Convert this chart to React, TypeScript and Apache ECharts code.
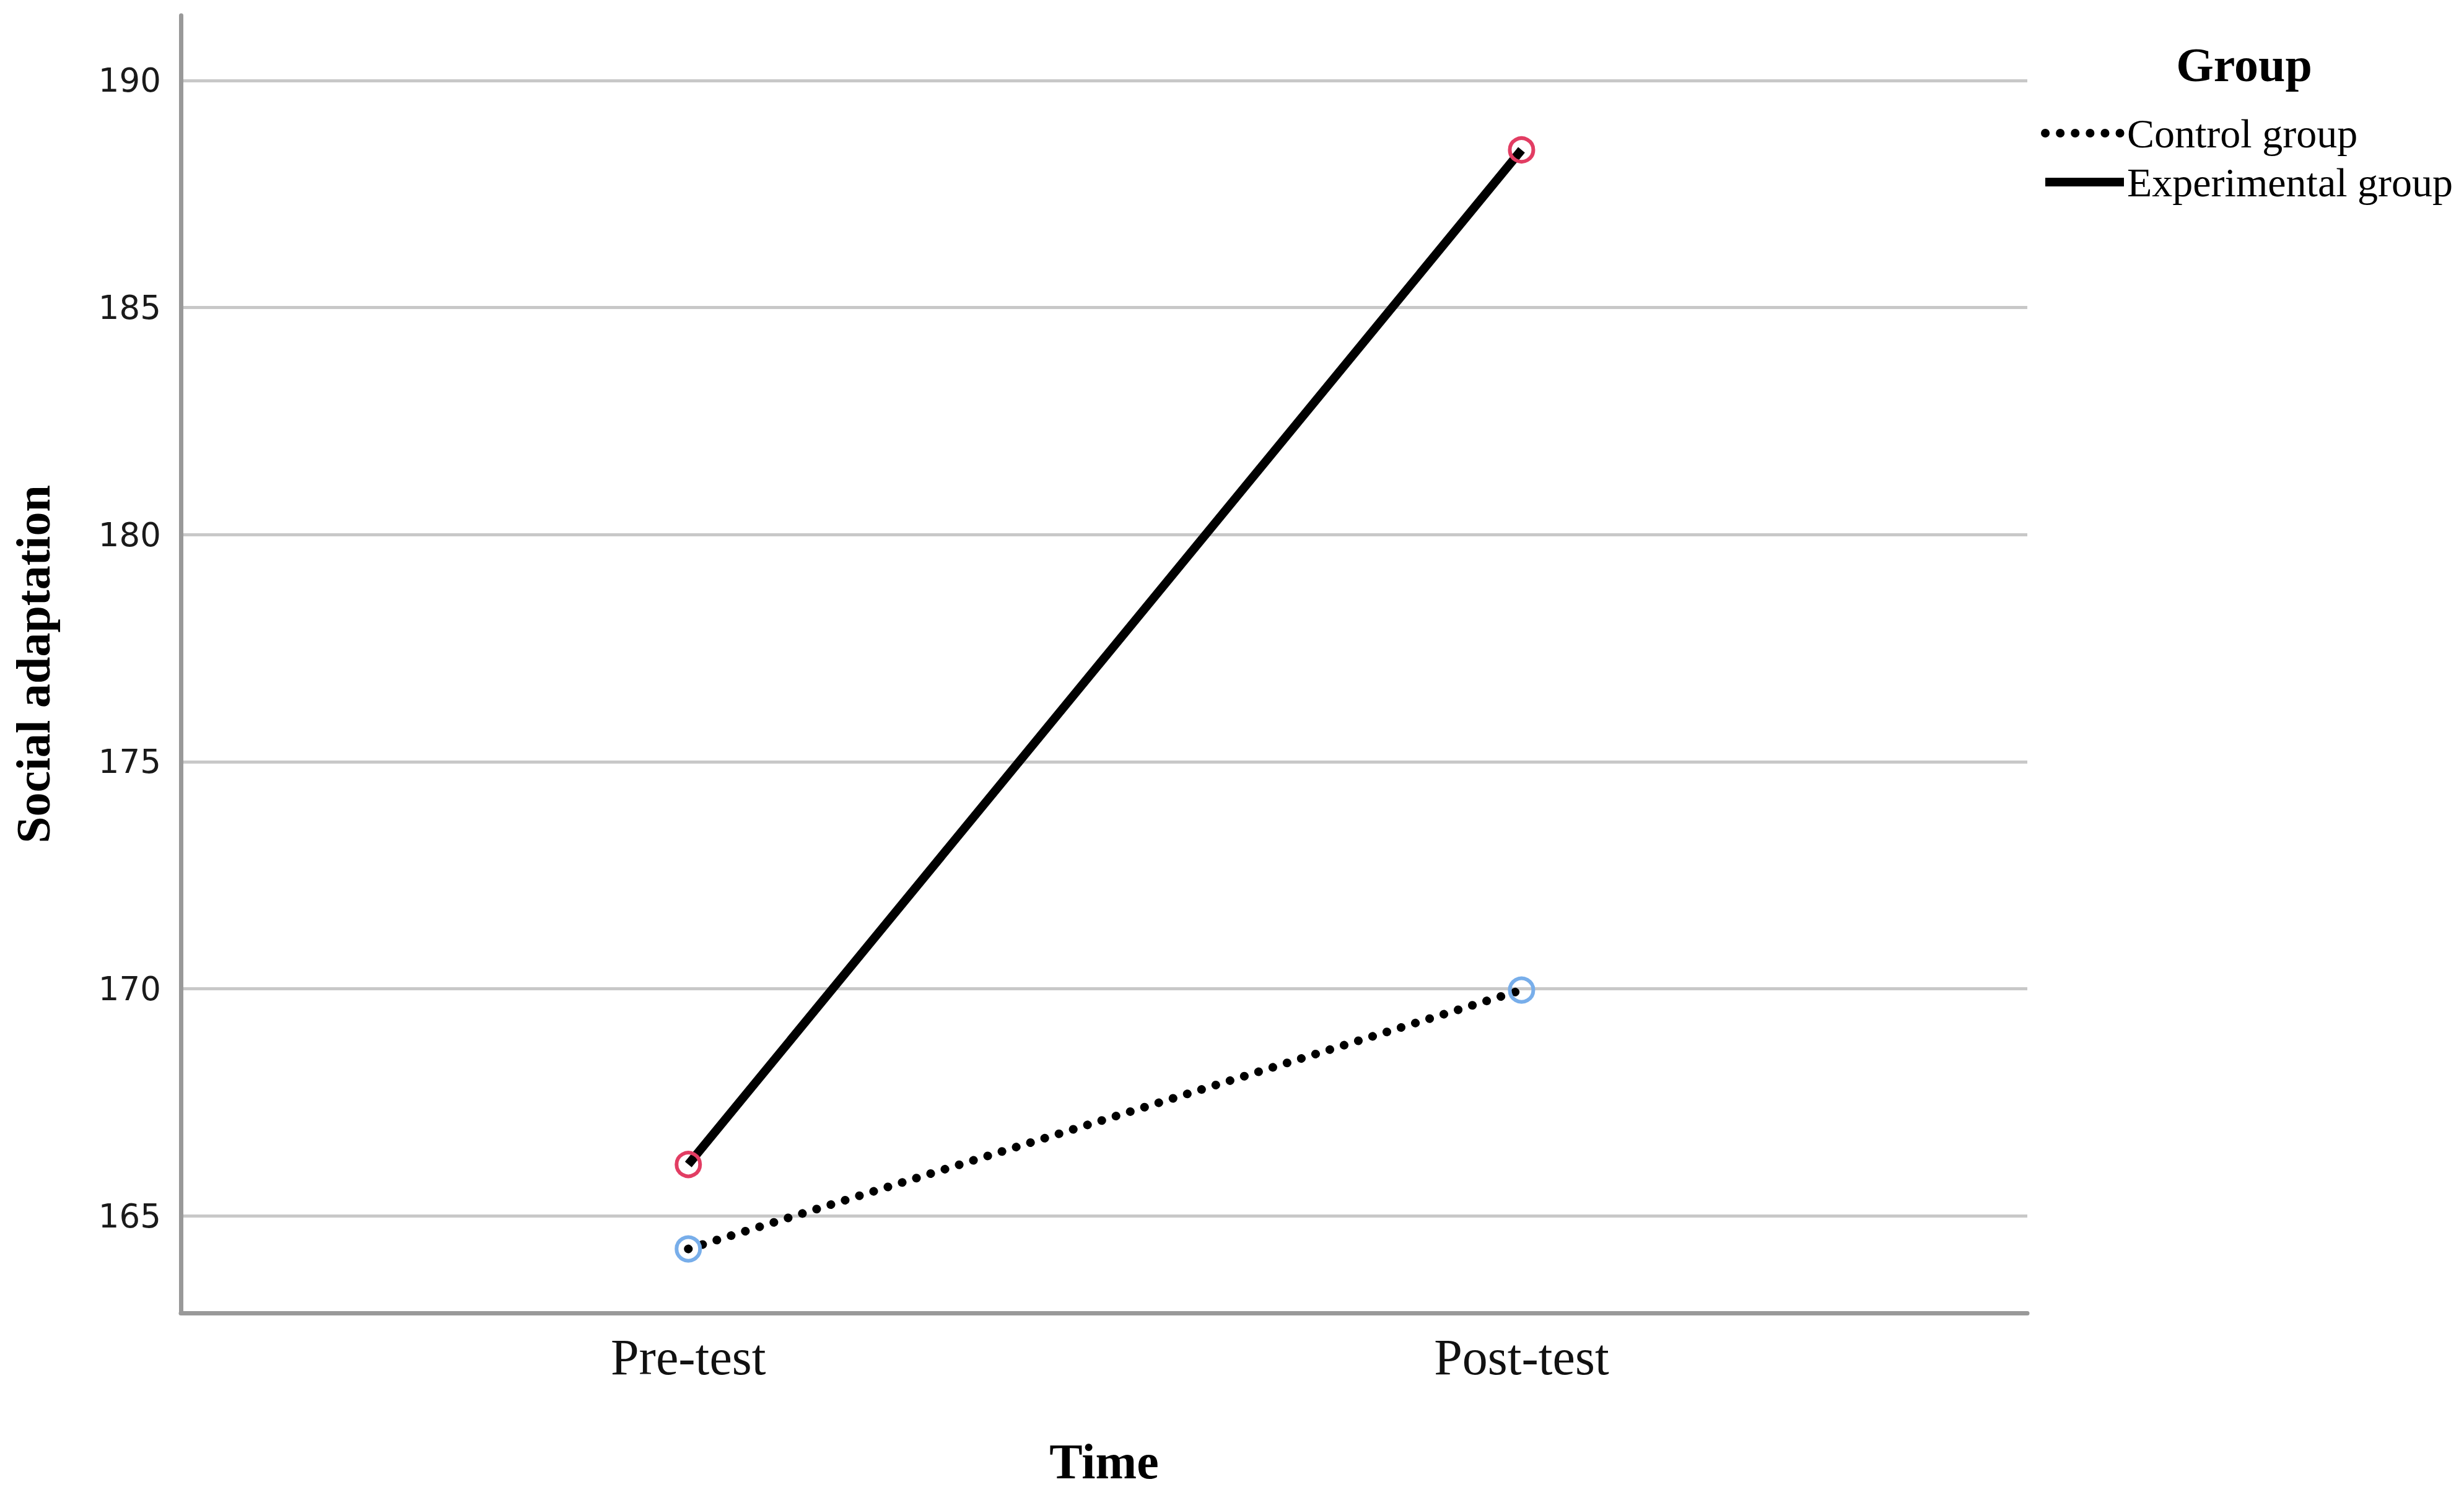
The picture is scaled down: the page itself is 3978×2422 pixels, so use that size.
import React, { useEffect, useRef } from 'react';
import * as echarts from 'echarts';

const categories = ['Pre-test', 'Post-test'];
const categoryIndex = [0, 1];
const seriesNames = ['Control group', 'Experimental group'];
const controlValues = [164.27, 169.97];
const experimentalValues = [166.13, 188.47];
const yTicks = [165, 170, 175, 180, 185, 190];

export default function App() {
  const ref = useRef<HTMLDivElement>(null);
  useEffect(() => {
    if (!ref.current) return;
    const chart = echarts.init(ref.current, null, { renderer: 'svg' });
    const serif = '"Liberation Serif", "Times New Roman", serif';
    const controlLine = { color: '#000000', width: 14, type: [0.1, 24], cap: 'round' };
    const expLine = { color: '#000000', width: 14, type: 'solid' };
    chart.setOption({
      animation: false,
      backgroundColor: '#ffffff',
      grid: { left: 292, right: 705, top: 25, bottom: 302, containLabel: false },
      xAxis: {
        type: 'value',
        min: -0.609,
        max: 1.607,
        axisLine: { show: true, onZero: false, lineStyle: { color: '#999999', width: 7 } },
        axisTick: { show: false, customValues: categoryIndex },
        splitLine: { show: false },
        axisLabel: {
          customValues: categoryIndex,
          formatter: (v: number) => categories[Math.round(v)] ?? '',
          fontFamily: serif,
          fontSize: 82,
          color: '#111111',
          margin: 30,
        },
        name: 'Time',
        nameLocation: 'middle',
        nameGap: 200,
        nameTextStyle: { fontFamily: serif, fontSize: 80, fontWeight: 'bold', color: '#000000' },
      },
      yAxis: {
        type: 'value',
        min: 162.86,
        max: 191.43,
        axisLine: { show: true, onZero: false, lineStyle: { color: '#999999', width: 7 } },
        axisTick: { show: false, customValues: yTicks },
        splitLine: { show: true, lineStyle: { color: '#c8c8c8', width: 5 } },
        axisLabel: {
          customValues: yTicks,
          fontFamily: '"DejaVu Sans", sans-serif',
          fontSize: 53,
          color: '#1a1a1a',
          margin: 32,
        },
        name: 'Social adaptation',
        nameLocation: 'middle',
        nameGap: 200,
        nameTextStyle: { fontFamily: serif, fontSize: 78, fontWeight: 'bold', color: '#000000' },
      },
      legend: {
        orient: 'vertical',
        left: 3290,
        top: 177,
        itemWidth: 127,
        itemHeight: 20,
        itemGap: 13,
        data: [
          { name: seriesNames[0], lineStyle: controlLine },
          { name: seriesNames[1], lineStyle: expLine },
        ],
        textStyle: { fontFamily: serif, fontSize: 66, color: '#000000', lineHeight: 66 },
        itemStyle: { opacity: 0 },
      },
      graphic: [
        {
          type: 'text',
          x: 3623,
          y: 104,
          style: {
            text: 'Group',
            textAlign: 'center',
            textVerticalAlign: 'middle',
            font: 'bold 78px "Liberation Serif", serif',
            fill: '#000000',
          },
        },
      ],
      series: [
        {
          name: seriesNames[0],
          type: 'line',
          data: categoryIndex.map((i) => [i, controlValues[i]]),
          symbol: 'circle',
          symbolSize: 38,
          itemStyle: { color: 'rgba(0,0,0,0)', borderColor: '#78aeea', borderWidth: 6 },
          lineStyle: controlLine,
          z: 3,
        },
        {
          name: seriesNames[1],
          type: 'line',
          data: categoryIndex.map((i) => [i, experimentalValues[i]]),
          symbol: 'circle',
          symbolSize: 38,
          itemStyle: { color: 'rgba(0,0,0,0)', borderColor: '#e23d63', borderWidth: 6 },
          lineStyle: expLine,
          z: 3,
        },
      ],
    });
    return () => chart.dispose();
  }, []);
  return (
    <div
      ref={ref}
      style={{ position: 'fixed', left: 0, top: 0, width: 3978, height: 2422, background: '#fff' }}
    />
  );
}
